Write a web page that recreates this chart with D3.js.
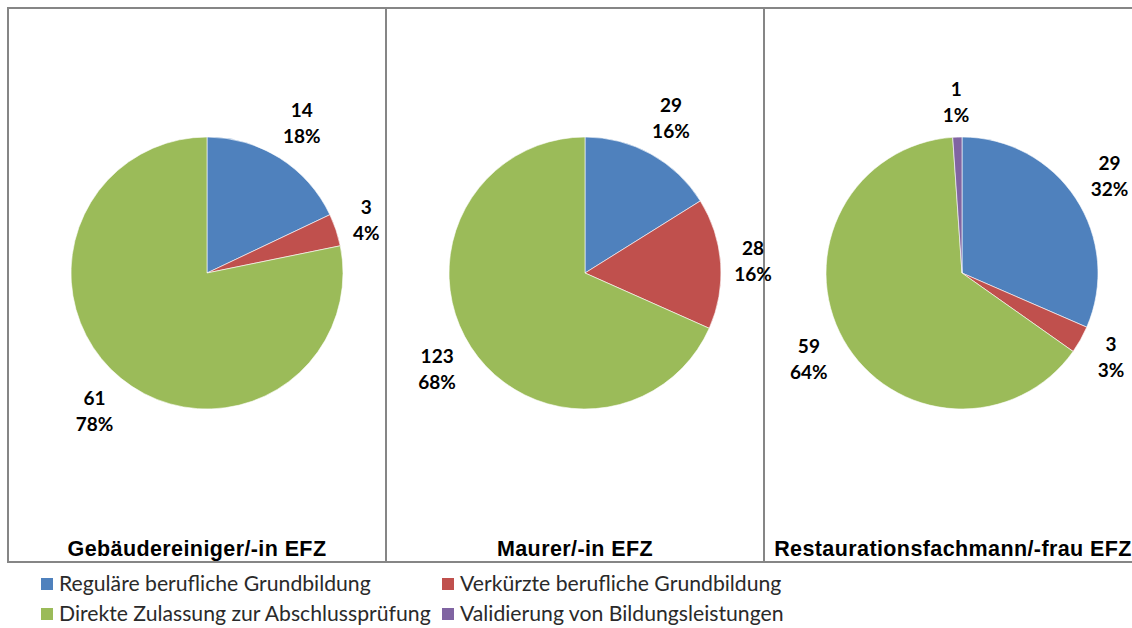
<!DOCTYPE html>
<html><head><meta charset="utf-8">
<script src="https://cdn.jsdelivr.net/npm/d3@7"></script>
<style>html,body{margin:0;padding:0;background:#fff;}svg{display:block;}</style>
</head><body>
<svg id="chart" width="1132" height="628"></svg>
<script>
const seriesNames = ["Reguläre berufliche Grundbildung","Verkürzte berufliche Grundbildung","Direkte Zulassung zur Abschlussprüfung","Validierung von Bildungsleistungen"];
const colors = ["#4F81BD","#C0504D","#9BBB59","#8064A2"];
const panelTitles = ["Gebäudereiniger/-in EFZ","Maurer/-in EFZ","Restaurationsfachmann/-frau EFZ"];
const valuesGebaeude = [14,3,61,0];
const valuesMaurer = [29,28,123,0];
const valuesResto = [29,3,59,1];
const panelValues = [valuesGebaeude, valuesMaurer, valuesResto];

(function(){
const svg = d3.select("#chart");
const W = 1132;
const frameTop = 8, frameBottom = 562;
const bounds = [8, 386, 764, 1142];
const R = 136;
const pieCY = 273;
const pieCXs = [207, 585, 962];

const border = "#868686";
svg.append("line").attr("x1",bounds[0]-1).attr("x2",W).attr("y1",frameTop).attr("y2",frameTop).attr("stroke",border).attr("stroke-width",2);
svg.append("line").attr("x1",bounds[0]-1).attr("x2",W).attr("y1",frameBottom).attr("y2",frameBottom).attr("stroke",border).attr("stroke-width",2);
[0,1,2].forEach(i=>svg.append("line").attr("x1",bounds[i]).attr("x2",bounds[i]).attr("y1",frameTop).attr("y2",frameBottom).attr("stroke",border).attr("stroke-width",2));

const pie = d3.pie().sort(null).value(d=>d.v);
const arc = d3.arc().innerRadius(0).outerRadius(R);

panelValues.forEach((vals, pi) => {
  const g = svg.append("g").attr("transform",`translate(${pieCXs[pi]},${pieCY})`);
  const data = vals.map((v,i)=>({v,i}));
  const total = d3.sum(vals);
  const arcs = pie(data).filter(a=>a.data.v>0);
  g.selectAll("path").data(arcs).join("path")
    .attr("d",arc).attr("fill",d=>colors[d.data.i])
    .attr("stroke","#fff").attr("stroke-width",0.6);
  arcs.forEach(a=>{
    const ang = (a.startAngle+a.endAngle)/2;
    const s = Math.sin(ang), c = -Math.cos(ang);
    const t = g.append("text").attr("font-family","Lato, 'Open Sans', sans-serif")
      .attr("font-weight","bold").attr("font-size",19).attr("fill","#000").attr("text-anchor","middle");
    t.append("tspan").attr("x",0).attr("dy",0).text(a.data.v);
    t.append("tspan").attr("x",0).attr("dy",26).text(Math.round(a.data.v/total*100)+"%");
    const bb = t.node().getBBox();
    const w = bb.width, h = 46;
    const gap = 12;
    const e = w/2*Math.abs(s) + h/2*Math.abs(c);
    const cx = (R+gap+e)*s, cy = (R+gap+e)*c;
    t.attr("transform",`translate(${cx},${cy - 6})`);
  });
  svg.append("text").attr("x",(bounds[pi]+bounds[pi+1])/2).attr("y",556)
    .attr("text-anchor","middle").attr("font-family","'Liberation Sans', Arial, sans-serif")
    .attr("font-weight","bold").attr("font-size",21.5).attr("letter-spacing",0.4).attr("fill","#000").text(panelTitles[pi]);
});

const legX = [41, 442], legY = [591, 621];
seriesNames.forEach((n,i)=>{
  const col = i%2, row = Math.floor(i/2);
  svg.append("rect").attr("x",legX[col]).attr("y",legY[row]-13).attr("width",12).attr("height",12).attr("fill",colors[i]);
  svg.append("text").attr("x",legX[col]+18).attr("y",legY[row]).attr("font-family","Lato, 'Open Sans', sans-serif")
    .attr("font-size",21.2).attr("fill","#2a2a2a").text(n);
});
})();
</script>
</body></html>
